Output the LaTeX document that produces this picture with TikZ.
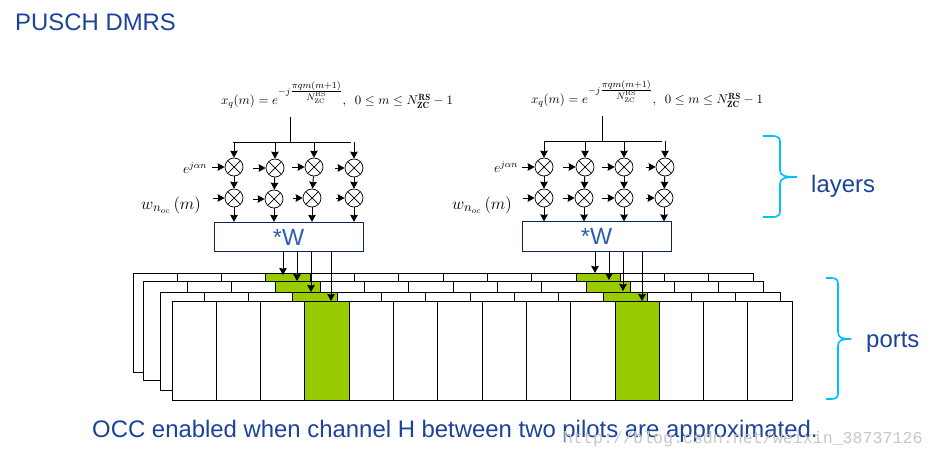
\documentclass[tikz,border=0pt]{standalone}
\usepackage{fontspec}
\usetikzlibrary{arrows.meta}
\newfontfamily\slidefont{Liberation Sans}
\newfontfamily\markfont{Liberation Mono}
\definecolor{slideblue}{HTML}{1A4399}
\definecolor{boxblue}{HTML}{2B5DB5}
\definecolor{pilotgreen}{HTML}{99CC00}
\definecolor{bracecyan}{HTML}{00BFFF}
\definecolor{boxnavy}{HTML}{10264F}
\newcommand{\xqformula}{$x_q(m)=e^{-j\frac{\scriptstyle\pi qm(m+1)}{\scriptstyle N_{\mathrm{ZC}}^{\mathrm{RS}}}},\enspace 0\le m\le N_{\mathbf{ZC}}^{\mathbf{RS}}-1$}
\tikzset{
  mult/.style={draw, circle, inner sep=0pt, minimum size=0.54cm, line width=0.6pt,
    path picture={\draw[line width=0.6pt] (path picture bounding box.north west) -- (path picture bounding box.south east)
      (path picture bounding box.north east) -- (path picture bounding box.south west);}},
  wbox/.style={draw=boxnavy, line width=0.8pt, minimum width=4.47cm, minimum height=0.88cm, inner sep=0pt,
    text=boxblue, font=\slidefont\fontsize{20}{24}\selectfont},
  slidetext/.style={anchor=base west, inner sep=0pt, text=slideblue, font=\slidefont\fontsize{20.4}{24}\selectfont},
  formula/.style={anchor=base, inner sep=0pt, font=\fontsize{11}{13}\selectfont},
  inlabel/.style={inner sep=0pt, font=\fontsize{11.5}{13}\selectfont},
  wlabel/.style={inner sep=0pt, font=\fontsize{15}{17}\selectfont},
  sig/.style={-{Stealth[length=6pt,width=6.5pt,inset=0.6pt]}, line width=0.8pt},
  curly/.style={draw=bracecyan, line width=1.4pt}
}
\begin{document}
\begin{tikzpicture}[x=0.03cm, y=-0.03cm]
  \useasboundingbox (0,0) rectangle (934,457);

  % Titulo
  \node[slidetext] (title) at (15,31) {PUSCH DMRS};

  % Rejillas de puertos, de atras hacia delante
  \foreach \dx/\top/\bot in {-39/273/372, -29/281/380, -12/292/390, 0/301/400} {
    \foreach \off in {310,0} {
      \foreach \i in {0,...,6} {
        \pgfmathsetmacro{\xa}{172+\off+\dx+44.3*\i}
        \pgfmathsetmacro{\xb}{\xa+44.3}
        \ifnum\i=3
          \filldraw[fill=pilotgreen, line width=0.7pt] (\xa,\top) rectangle (\xb,\bot);
        \else
          \filldraw[fill=white, line width=0.7pt] (\xa,\top) rectangle (\xb,\bot);
        \fi
      }
    }
  }

  % Formulas
  \node[formula] (forma) at (337,105) {\xqformula};
  \node[formula] (formb) at (647,104) {\xqformula};

  % Multiplicadores
  \foreach \n/\x/\y in {a1/234/167, a2/275/168, a3/314/167, a4/354/168,
                        b1/234/198, b2/274/199, b3/312/198, b4/354/198,
                        c1/544/167, c2/585/167, c3/624/167, c4/665/167,
                        d1/544/198, d2/584/198, d3/624/198, d4/664/198}
    \node[mult] (\n) at (\x,\y) {};

  % Cajas de precodificacion
  \node[wbox] (wa) at (288.5,237) {*W};
  \node[wbox] (wb) at (596.5,236.5) {*W};

  % Buses superiores
  \coordinate (feeda) at (290,117);
  \coordinate (busa) at (290,142);
  \coordinate (buslefta) at (233,142);
  \coordinate (busrighta) at (351,142);
  \coordinate (feedb) at (602,116);
  \coordinate (busb) at (602,141);
  \coordinate (busleftb) at (544,141);
  \coordinate (busrightb) at (662,141);
  \draw[line width=0.8pt] (feeda) -- (busa) (buslefta) -- (busrighta);
  \draw[line width=0.8pt] (feedb) -- (busb) (busleftb) -- (busrightb);

  % Flechas de cada columna
  \foreach \i in {1,...,4} {
    \draw[sig] (a\i |- busa) -- (a\i);
    \draw[sig] (a\i) -- (b\i);
    \draw[sig] (b\i) -- (b\i |- wa.north);
    \draw[sig] (c\i |- busb) -- (c\i);
    \draw[sig] (c\i) -- (d\i);
    \draw[sig] (d\i) -- (d\i |- wb.north);
  }

  % Entradas laterales
  \foreach \n/\x in {a1/212, a2/253, a3/292, a4/335, b1/213, b2/253, b3/293, b4/336,
                     c1/522, c2/563, c3/602, c4/646, d1/523, d2/563, d3/602, d4/646} {
    \coordinate (in\n) at (\x,0 |- \n);
    \draw[sig] (in\n) -- (\n);
  }

  % Etiquetas de las entradas
  \node[inlabel] (ea) at (195,168) {$e^{j\alpha n}$};
  \node[inlabel] (eb) at (506,167) {$e^{j\alpha n}$};
  \node[wlabel] (wla) at (171,205) {$w_{n_{oc}}\left(m\right)$};
  \node[wlabel] (wlb) at (482,205) {$w_{n_{oc}}\left(m\right)$};

  % Flechas hacia las rejillas
  \foreach \n/\x/\y/\s in {p1/283/275/wa, p2/297/281/wa, p3/311/292/wa, p4/331/301/wa,
                           q1/595/273/wb, q2/609/280/wb, q3/623/291/wb, q4/642/301/wb} {
    \coordinate (\n) at (\x,\y);
    \draw[sig] (\n |- \s.south) -- (\n);
  }

  % Llaves
  \draw[curly] (763,136) .. controls (775,136) and (780,135) .. (780,142) -- (780,170)
    .. controls (780,176) and (785,177) .. (797,177) .. controls (785,177) and (780,178) .. (780,184)
    -- (780,211) .. controls (780,218) and (775,217) .. (763,217);
  \draw[curly] (826,278) .. controls (833,278) and (838,277) .. (838,284) -- (838,332)
    .. controls (838,338) and (842,339) .. (851,339) .. controls (842,339) and (838,340) .. (838,346)
    -- (838,393) .. controls (838,400) and (833,399) .. (826,399);

  % Textos
  \node[slidetext] (layers) at (811,192) {layers};
  \node[slidetext] (ports) at (866,347) {ports};
  \node[slidetext] (occ) at (92,437) {OCC enabled when channel H between two pilots are approximated.};
  \node[anchor=base west, inner sep=0pt, text=black!22, font=\markfont\fontsize{14.2}{16}\selectfont] (mark) at (563,443)
    {http://blog.csdn.net/weixin\_38737126};
\end{tikzpicture}
\end{document}
